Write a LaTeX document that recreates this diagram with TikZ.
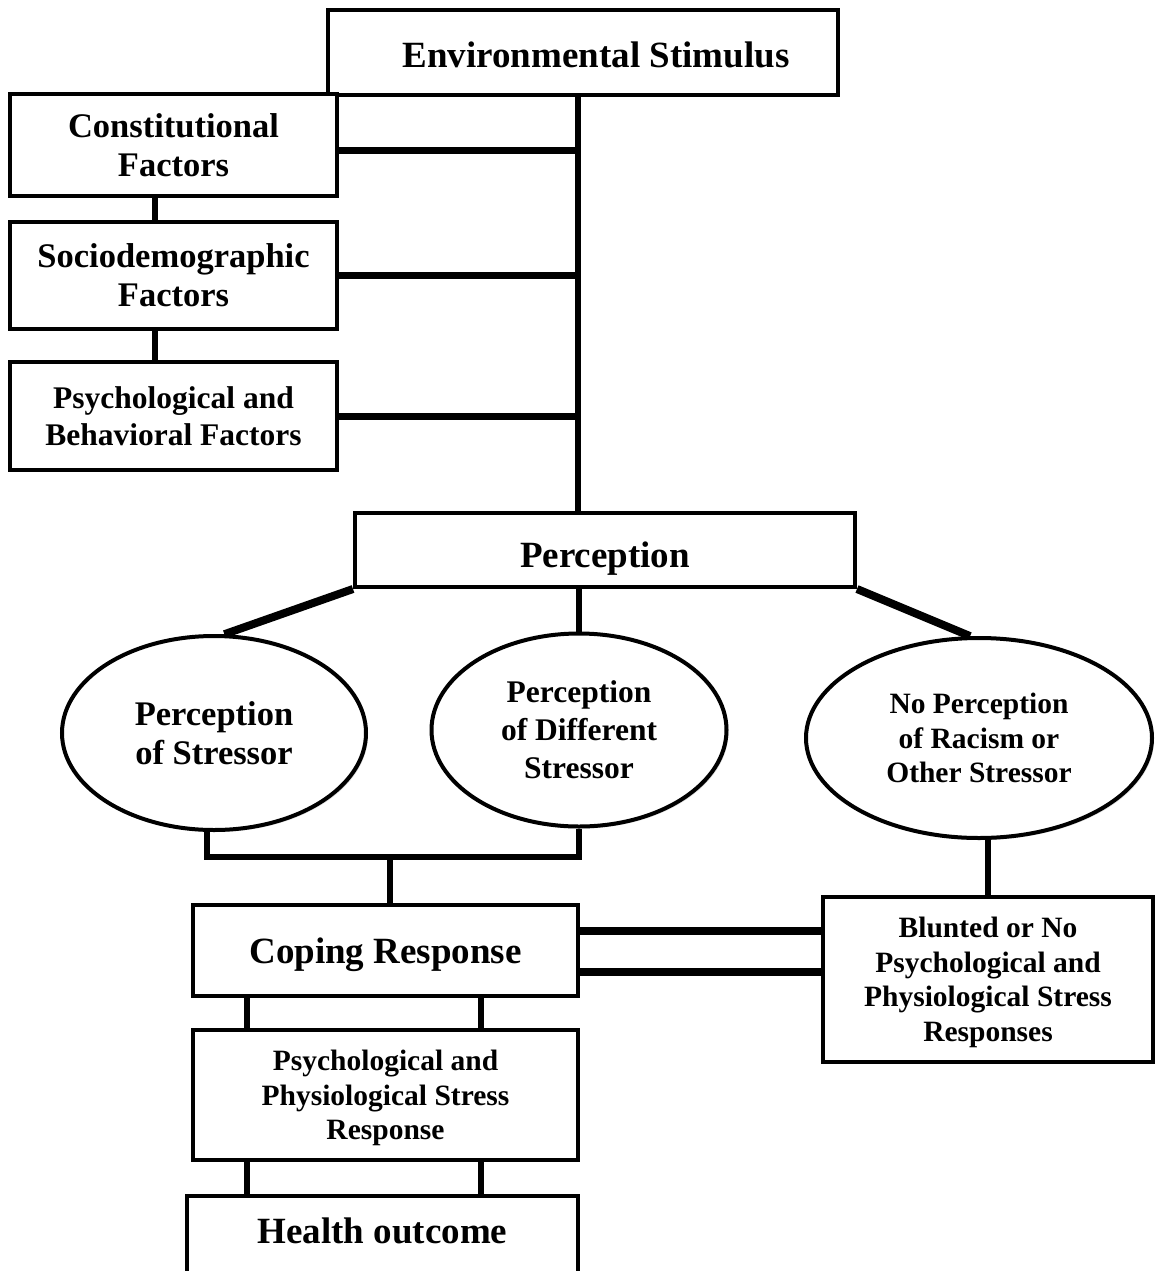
\documentclass[tikz,border=0pt]{standalone}
\usepackage{fontspec}
\setmainfont{Liberation Serif}
\usetikzlibrary{shapes.geometric,shadows}

\begin{document}
\begin{tikzpicture}[x=1pt, y=-1pt,
  box/.style={draw, line width=4pt, fill=white, align=center, inner sep=0pt,
    drop shadow={opacity=0.25, shadow xshift=2pt, shadow yshift=-2pt}},
  oval/.style={draw, ellipse, line width=4pt, fill=white, align=center, inner sep=0pt,
    drop shadow={opacity=0.25, shadow xshift=2pt, shadow yshift=-2pt}},
  link/.style={line width=6pt},
  big/.style={font=\bfseries\fontsize{37}{39}\selectfont},
  mid/.style={font=\bfseries\fontsize{34.5}{39}\selectfont},
  small/.style={font=\bfseries\fontsize{29.5}{34.5}\selectfont}]
\useasboundingbox (0,0) rectangle (1154,1271);

\coordinate (trunk) at (578,0);
\coordinate (stem) at (155,0);

\node[box, big, minimum width=510, minimum height=85, text height=31pt, text depth=0pt] (env) at (583,52.5) {\hspace*{26pt}Environmental Stimulus};
\node[box, mid, minimum width=327, minimum height=102, text depth=-4pt] (con) at (173.5,145) {Constitutional\\Factors};
\node[box, mid, minimum width=327, minimum height=107, text depth=-4pt] (soc) at (173.5,275.5) {Sociodemographic\\Factors};
\node[box, font=\bfseries\fontsize{31.5}{37}\selectfont, minimum width=327, minimum height=108, text depth=-4pt] (psy) at (173.5,416) {Psychological and\\Behavioral Factors};
\node[box, big, minimum width=500, minimum height=74, text height=42pt, text depth=8pt] (per) at (605,550) {Perception};

\node[oval, mid, minimum width=304, minimum height=194, text depth=-8pt] (p1) at (214,733) {Perception\\of Stressor};
\node[oval, font=\bfseries\fontsize{31.5}{38}\selectfont, minimum width=295, minimum height=193] (p2) at (579,730) {Perception\\of Different\\Stressor};
\node[oval, small, minimum width=346, minimum height=200] (p3) at (979,738) {No Perception\\of Racism or\\Other Stressor};

\node[box, big, minimum width=385, minimum height=91, text height=33pt, text depth=8pt] (cop) at (385.5,950.5) {Coping Response};
\node[box, small, minimum width=330, minimum height=165, text depth=-12pt] (blu) at (988,979.5) {Blunted or No\\Psychological and\\Physiological Stress\\Responses};
\node[box, small, minimum width=385, minimum height=130, text depth=-6pt] (str) at (385.5,1095) {Psychological and\\Physiological Stress\\Response};
\node[box, big, minimum width=391, minimum height=80, text height=25pt, text depth=10pt] (hea) at (382.5,1236) {Health outcome};

\coordinate (join) at (390,857);

\draw[link] (env.south -| trunk) -- (per.north -| trunk);
\draw[line width=7pt] ([yshift=-5pt]con.east) -- ([yshift=-5pt]con.east -| trunk);
\draw[line width=7pt] (soc.east) -- (soc.east -| trunk);
\draw[line width=7pt] (psy.east) -- (psy.east -| trunk);
\draw[link] (con.south -| stem) -- (soc.north -| stem);
\draw[link] (soc.south -| stem) -- (psy.north -| stem);

\draw[line width=8pt] (per.south west) -- (p1.84);
\draw[link] (per.south -| p2.north) -- (p2.north);
\draw[line width=8pt] (per.south east) -- (p3.95);

\draw[link] (p1.266) |- (join) -| (p2.south);
\draw[link] (join) -- (join |- cop.north);
\draw[link] (p3.south -| blu.north) -- (blu.north);

\draw[line width=8pt] ([yshift=20pt]cop.east) -- ([yshift=20pt]cop.east -| blu.west);
\draw[line width=8pt] ([yshift=-21.5pt]cop.east) -- ([yshift=-21.5pt]cop.east -| blu.west);

\draw[link] (cop.south -| 247,0) -- (str.north -| 247,0);
\draw[link] (cop.south -| 481,0) -- (str.north -| 481,0);
\draw[link] (str.south -| 247,0) -- (hea.north -| 247,0);
\draw[link] (str.south -| 481,0) -- (hea.north -| 481,0);

\end{tikzpicture}
\end{document}
